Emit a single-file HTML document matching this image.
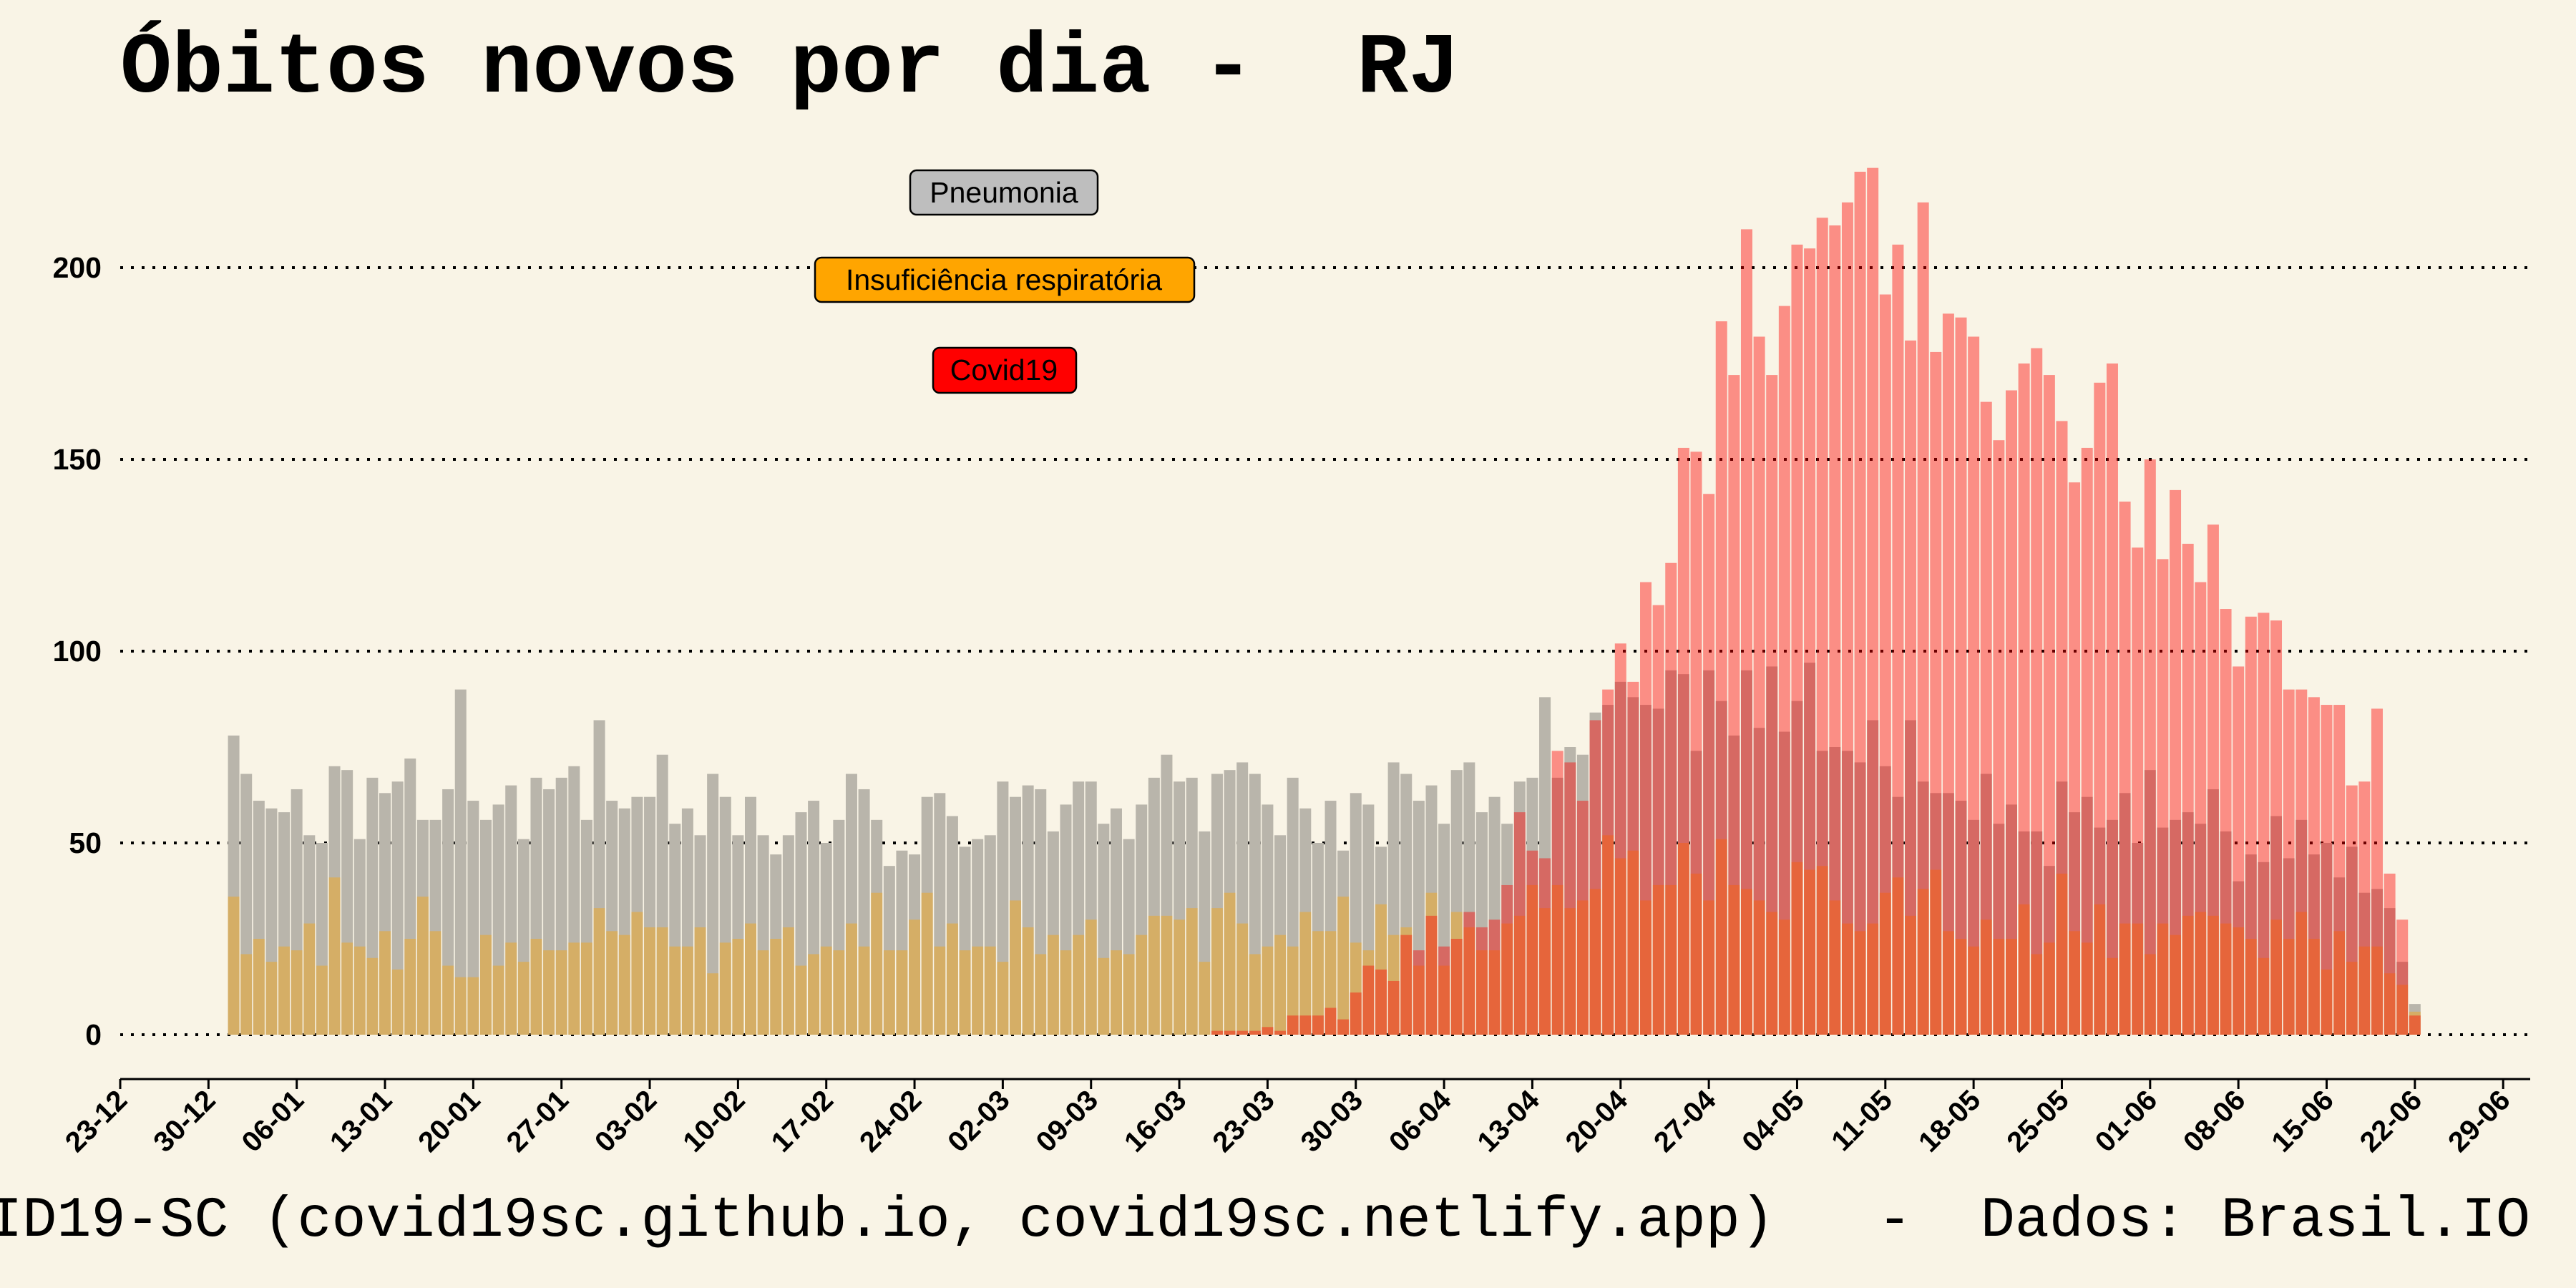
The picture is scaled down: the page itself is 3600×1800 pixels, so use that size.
<!DOCTYPE html>
<html><head><meta charset="utf-8"><style>
html,body{margin:0;padding:0;background:#f9f4e6;}
svg{display:block;}
</style></head><body>
<svg id="chart" width="3600" height="1800" viewBox="0 0 3600 1800" xmlns="http://www.w3.org/2000/svg">
<rect x="0" y="0" width="3600" height="1800" fill="#f9f4e6"/>
<text x="168" y="128" font-family="Liberation Mono, monospace" font-weight="bold" font-size="120" fill="#000" xml:space="preserve">Óbitos novos por dia -  RJ</text>
<g id="grid"></g>
<g id="bars"></g>
<g id="axes"></g>
<g font-family="Liberation Sans, sans-serif" font-size="41">
  <rect x="1272" y="238" width="262" height="62" rx="9" fill="#bebebe" stroke="#000" stroke-width="2.5"/>
  <text x="1403" y="283" text-anchor="middle">Pneumonia</text>
  <rect x="1139" y="360" width="530" height="62" rx="9" fill="#ffa500" stroke="#000" stroke-width="2.5"/>
  <text x="1403" y="405" text-anchor="middle">Insuficiência respiratória</text>
  <rect x="1304" y="486" width="200" height="63" rx="9" fill="#ff0000" stroke="#000" stroke-width="2.5"/>
  <text x="1403" y="531" text-anchor="middle">Covid19</text>
</g>
<text x="3536" y="1727" text-anchor="end" font-family="Liberation Mono, monospace" font-size="80" fill="#000" xml:space="preserve">COVID19-SC (covid19sc.github.io, covid19sc.netlify.app)   -  Dados: Brasil.IO</text>
</svg>
<script>
const startDay = 9;
const yTicks = [0, 50, 100, 150, 200];
const xTickLabels = ["23-12","30-12","06-01","13-01","20-01","27-01","03-02","10-02","17-02","24-02","02-03","09-03","16-03","23-03","30-03","06-04","13-04","20-04","27-04","04-05","11-05","18-05","25-05","01-06","08-06","15-06","22-06","29-06"];
const pneumonia = [78,68,61,59,58,64,52,50,70,69,51,67,63,66,72,56,56,64,90,61,56,60,65,51,67,64,67,70,56,82,61,59,62,62,73,55,59,52,68,62,52,62,52,47,52,58,61,50,56,68,
64,56,44,48,47,62,63,57,49,51,52,66,62,65,64,53,60,66,66,55,59,51,60,67,73,66,67,53,68,69,71,68,60,52,67,59,50,61,48,63,60,49,71,68,61,65,55,69,71,58,
62,55,66,67,88,67,75,73,84,86,92,88,86,85,95,94,74,95,87,78,95,80,96,79,87,97,74,75,74,71,82,70,62,82,66,63,63,61,
56,68,55,60,53,53,44,66,58,62,54,56,63,50,69,54,56,58,55,64,53,40,47,45,57,46,56,47,50,41,49,37,38,33,19,8];
const insuficiencia = [36,21,25,19,23,22,29,18,41,24,23,20,27,17,25,36,27,18,15,15,26,18,24,19,25,22,22,24,24,33,27,26,32,28,28,23,23,28,16,24,25,29,22,25,28,18,21,23,22,29,
23,37,22,22,30,37,23,29,22,23,23,19,35,28,21,26,22,26,30,20,22,21,26,31,31,30,33,19,33,37,29,21,23,26,23,32,27,27,36,24,22,34,26,28,18,37,18,32,28,22,
22,29,31,39,33,39,33,35,38,52,46,48,35,39,39,50,42,35,51,39,38,35,32,30,45,43,44,35,29,27,29,37,41,31,38,43,27,25,
23,30,25,25,34,21,24,42,27,24,34,20,29,29,21,29,26,31,32,31,29,28,25,20,30,25,32,25,17,27,19,23,23,16,13,6];
const covid = [0,0,0,0,0,0,0,0,0,0,0,0,0,0,0,0,0,0,0,0,0,0,0,0,0,0,0,0,0,0,0,0,0,0,0,0,0,0,0,0,
0,0,0,0,0,0,0,0,0,0,0,0,0,0,0,0,0,0,0,0,0,0,0,0,0,0,0,0,0,0,0,0,0,0,0,0,0,0,
1,1,1,1,2,1,5,5,5,7,4,11,18,17,14,26,22,31,23,25,32,28,
30,39,58,48,46,74,71,61,82,90,102,92,118,112,123,153,152,141,186,172,210,182,172,190,206,205,213,211,217,225,226,193,206,181,217,178,188,187,
182,165,155,168,175,179,172,160,144,153,170,175,139,127,150,124,142,128,118,133,111,96,109,110,108,90,90,88,86,86,65,66,85,42,30,5];

const NS = "http://www.w3.org/2000/svg";
const X0 = 168, DAY = 17.62, Y0 = 1446, YU = 5.36, BW = 16;
const xs = d => X0 + d * DAY;
const ys = v => Y0 - v * YU;
function mk(tag, attrs, parent){const e=document.createElementNS(NS,tag);for(const k in attrs)e.setAttribute(k,attrs[k]);parent.appendChild(e);return e;}

const grid = document.getElementById('grid');
const axes = document.getElementById('axes');
yTicks.forEach(v=>{
  const l = mk('line',{x1:168,x2:3536,y1:ys(v),y2:ys(v),stroke:'#000','stroke-width':4,'stroke-dasharray':'4 11'},grid);
  
  
  const t = mk('text',{x:142,y:ys(v)+14,'text-anchor':'end','font-family':'Liberation Sans, sans-serif','font-weight':'bold','font-size':41},axes);
  
  
  t.textContent = v;
});
const bars = document.getElementById('bars');
function series(arr, fill, name){
  arr.forEach((v,i)=>{
    if(v<=0) return;
    const d = startDay + i;
    const r = mk('rect',{x:xs(d)-BW/2,y:ys(v),width:BW,height:v*YU,fill:fill},bars);
    
    
  });
}
series(pneumonia,'#b9b5ab','bar-pneumonia');
series(insuficiencia,'rgba(255,165,0,0.4)','bar-insuficiencia');
series(covid,'rgba(255,0,0,0.42)','bar-covid');

const axl = mk('line',{x1:168,x2:3536,y1:1508,y2:1508,stroke:'#000','stroke-width':3},axes);


xTickLabels.forEach((lab,i)=>{
  const x = xs(i*7);
  const tk = mk('line',{x1:x,x2:x,y1:1508,y2:1522,stroke:'#000','stroke-width':3},axes);
  
  
  const t = mk('text',{x:x+12,y:1540,'text-anchor':'end','font-family':'Liberation Sans, sans-serif','font-weight':'bold','font-size':40,transform:`rotate(-45 ${x+12} 1540)`},axes);
  
  
  t.textContent = lab;
});
</script>
</body></html>
